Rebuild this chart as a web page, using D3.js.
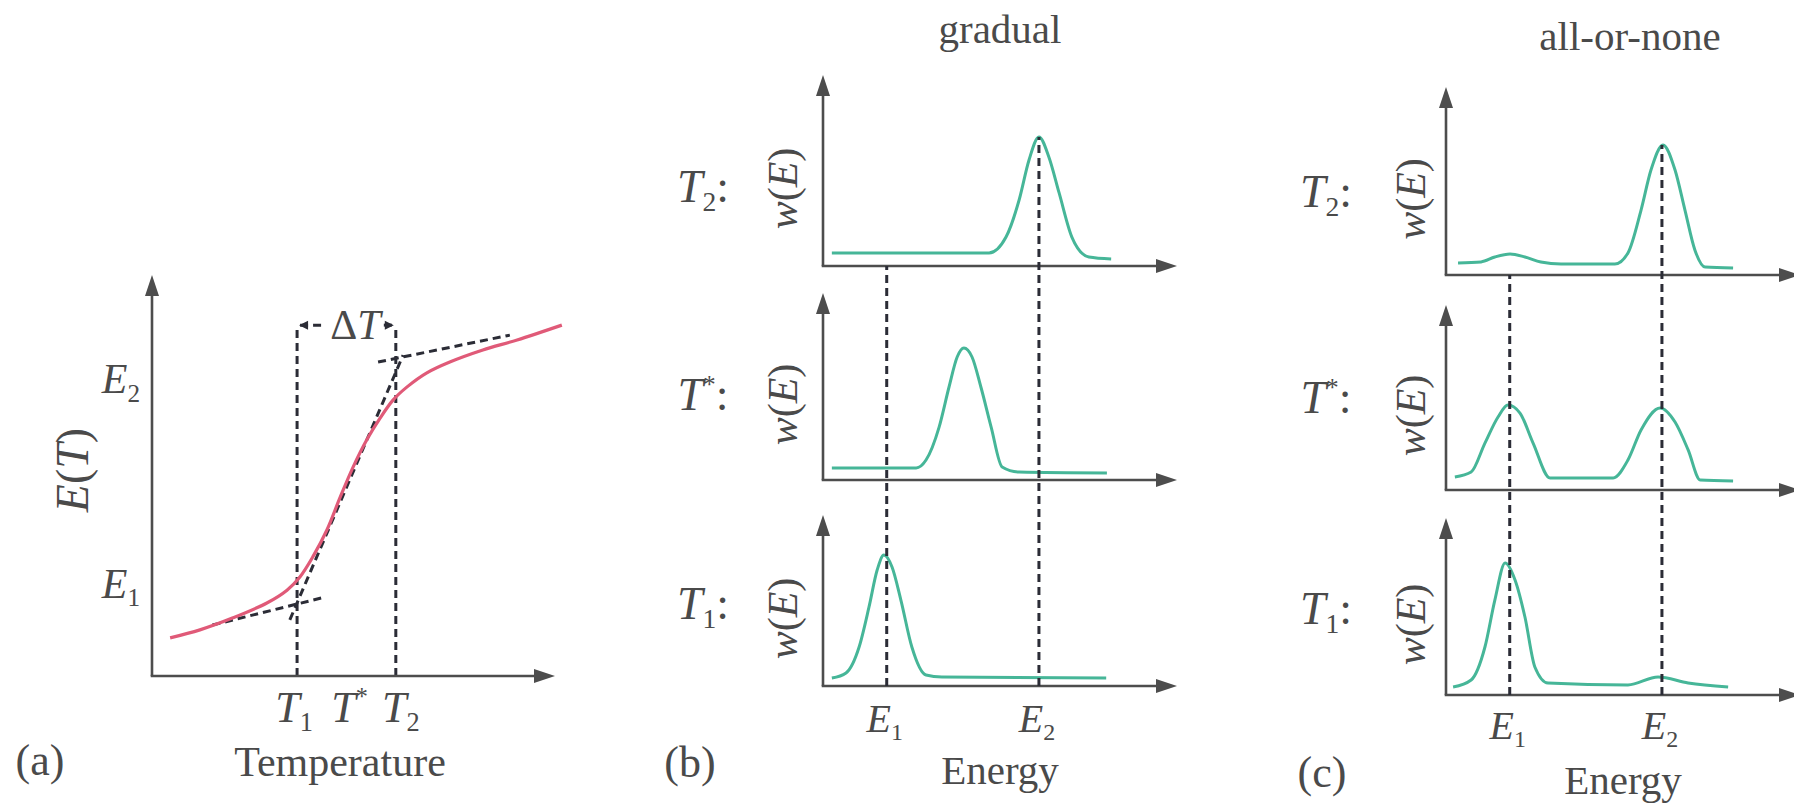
<!DOCTYPE html>
<html>
<head>
<meta charset="utf-8">
<script src="https://cdn.jsdelivr.net/npm/d3@7"></script>
<style>
  body { margin: 0; background: #fff; }
  svg { display: block; }
  text { font-family: "Liberation Serif", "DejaVu Serif", serif; fill: #4a4a4a; }
</style>
</head>
<body>
<svg id="fig" width="1794" height="804"></svg>
<script>
// ---------------- data ----------------

// (a) mean energy E(T) against temperature, both in arbitrary units 0..100
const tempT   = [4.5, 11.9, 20.1, 28.5, 33.5, 36.7, 39.9, 43.4, 46.7, 49.9, 53.3, 56.6, 59.8, 63.3, 68.2, 73.9, 82.1, 90.6, 101.7];
const energyE = [9.5, 11.5, 14.5, 18.2, 21.4, 24.7, 29.7, 36.4, 44.6, 52.1, 58.9, 64.3, 68.8, 72.1, 75.6, 78.3, 81.3, 83.8, 87.5];

// dashed tangents of (a): [T, E] end points
const tangentLow   = [[15, 12.7], [42.2, 19.5]];
const tangentSteep = [[34.2, 14.0], [62.3, 80.0]];
const tangentHigh  = [[56.1, 78.3], [88.8, 85.0]];

// marked temperatures and energy labels of (a)
const tempMarks   = [{ name: "T", sub: "1", value: 36 }, { name: "T", sup: "*", value: 49 }, { name: "T", sub: "2", value: 60.5 }];
const energyTicks = [{ name: "E", sub: "1", value: 23 }, { name: "E", sub: "2", value: 74 }];
const deltaTLevel = 87.5;

// (b) gradual: energy grid (0..10) and w(E) (0..100) at T2, T*, T1
const gradT2E = [0.25, 2.5, 4.69, 5.17, 5.54, 5.82, 6.10, 6.38, 6.67, 7.03, 7.51, 8.14];
const gradT2W = [8.7, 8.7, 8.7, 19.3, 44, 70.7, 86, 72.7, 48.7, 19.3, 6, 4.7];
const gradTsE = [0.25, 2.63, 2.91, 3.28, 3.56, 3.79, 3.98, 4.21, 4.46, 4.75, 5.06, 5.54, 8.02];
const gradTsW = [8, 8, 13.3, 35.3, 62, 82, 88, 82, 62, 35.3, 8.7, 5.3, 4.7];
const gradT1E = [0.25, 0.65, 1.02, 1.30, 1.53, 1.72, 1.95, 2.20, 2.51, 2.91, 3.36, 8.00];
const gradT1W = [5.3, 8.7, 26, 52.7, 77.3, 87.3, 79.3, 57.3, 26, 7.3, 6, 5.3];

// (c) all-or-none
const aonT2E = [0.34, 0.99, 1.38, 1.81, 2.23, 2.68, 3.25, 4.77, 5.14, 5.51, 5.79, 6.13, 6.47, 6.75, 7.03, 7.32, 8.11];
const aonT2W = [8, 8.7, 12, 14, 12, 8.7, 7.3, 7.3, 14.7, 43.3, 70, 86.7, 70, 43.3, 16.7, 5.3, 4.7];
const aonTsE = [0.25, 0.71, 1.10, 1.47, 1.75, 2.09, 2.46, 2.94, 4.72, 5.14, 5.51, 6.05, 6.47, 6.84, 7.18, 8.11];
const aonTsW = [8.7, 12, 31.3, 48.7, 56.7, 51.3, 31.3, 8, 8, 20, 40, 54.7, 45.3, 26.7, 6.7, 6];
const aonT1E = [0.20, 0.71, 1.10, 1.38, 1.67, 1.95, 2.23, 2.51, 2.88, 5.14, 5.99, 6.84, 7.97];
const aonT1W = [5.3, 10, 32, 63.3, 88, 76.7, 52, 18.7, 8, 6.7, 12, 8, 5.3];

// E1 / E2 positions on the energy axis
const energyMarks = [{ name: "E", sub: "1", value: 1.8 }, { name: "E", sub: "2", value: 6.1 }];

// ---------------- drawing ----------------
const AXIS = "#4d4d4d", DASH = "#2b2c36", RED = "#e05a78", TEAL = "#46b698";

const svg = d3.select("#fig");

function arrowAxes(g, x0, y0, yTop, xTip) {
    g.append("line").attr("x1", x0).attr("y1", y0).attr("x2", x0).attr("y2", yTop + 16)
        .attr("stroke", AXIS).attr("stroke-width", 2.6);
    g.append("line").attr("x1", x0 - 1.3).attr("y1", y0).attr("x2", xTip - 16).attr("y2", y0)
        .attr("stroke", AXIS).attr("stroke-width", 2.6);
    g.append("path").attr("d", `M${x0},${yTop} L${x0 - 7},${yTop + 21} L${x0 + 7},${yTop + 21} Z`).attr("fill", AXIS);
    g.append("path").attr("d", `M${xTip},${y0} L${xTip - 21},${y0 - 7} L${xTip - 21},${y0 + 7} Z`).attr("fill", AXIS);
}

function dashed(g, x1, y1, x2, y2) {
    g.append("line").attr("x1", x1).attr("y1", y1).attr("x2", x2).attr("y2", y2)
        .attr("stroke", DASH).attr("stroke-width", 3).attr("stroke-dasharray", "8,5");
}

// italic symbol with optional subscript / superscript and trailing text
function mathText(g, x, y, m, size, anchor, tail) {
    let t = g.append("text").attr("x", x).attr("y", y).attr("font-size", size)
        .attr("text-anchor", anchor || "middle");
    t.append("tspan").attr("font-style", "italic").text(m.name);
    if (m.sub) {
        t.append("tspan").attr("font-size", size * 0.6).attr("dy", size * 0.2).text(m.sub);
        if (tail) t.append("tspan").attr("dy", -size * 0.2).text(tail);
    } else if (m.sup) {
        t.append("tspan").attr("font-size", size * 0.55).attr("dy", -size * 0.38).text(m.sup);
        if (tail) t.append("tspan").attr("dy", size * 0.38).text(tail);
    } else if (tail) {
        t.append("tspan").text(tail);
    }
    return t;
}

function rotatedLabel(g, x, y, size, parts) {
    let t = g.append("text").attr("transform", `translate(${x},${y}) rotate(-90)`)
        .attr("text-anchor", "middle").attr("dy", "0.35em").attr("font-size", size);
    parts.forEach(p => t.append("tspan").attr("font-style", p[1] ? "italic" : "normal").text(p[0]));
}

// ---- panel (a) ----
const ga = svg.append("g");
const xa = d3.scaleLinear().domain([0, 100]).range([152, 555]);
const ya = d3.scaleLinear().domain([0, 100]).range([676, 275]);

[tempMarks[0], tempMarks[2]].forEach(m => dashed(ga, xa(m.value), ya(0), xa(m.value), ya(deltaTLevel)));
[tangentLow, tangentSteep, tangentHigh].forEach(l =>
    dashed(ga, xa(l[0][0]), ya(l[0][1]), xa(l[1][0]), ya(l[1][1])));

const lineA = d3.line().x(d => xa(d[0])).y(d => ya(d[1])).curve(d3.curveCatmullRom.alpha(0.5));
ga.append("path").datum(d3.zip(tempT, energyE)).attr("d", lineA)
    .attr("fill", "none").attr("stroke", RED).attr("stroke-width", 3.2);

arrowAxes(ga, xa(0), ya(0), ya(100), xa(100));

// delta T bracket
const t1x = xa(tempMarks[0].value), t2x = xa(tempMarks[2].value), by = ya(deltaTLevel);
dashed(ga, t1x + 3, by, t1x + 28, by);
dashed(ga, t2x - 12, by, t2x - 3, by);
ga.append("path").attr("d", `M${t1x + 2},${by} l9,-4.5 l0,9 Z`).attr("fill", DASH);
ga.append("path").attr("d", `M${t2x - 2},${by} l-9,-4.5 l0,9 Z`).attr("fill", DASH);
let dt = ga.append("text").attr("x", (t1x + t2x) / 2 + 9).attr("y", by + 14).attr("font-size", 42)
    .attr("text-anchor", "middle");
dt.append("tspan").text("Δ");
dt.append("tspan").attr("font-style", "italic").text("T");

tempMarks.forEach((m, i) => mathText(ga, xa(m.value) + [-3, 0, 5][i], 722, m, 44));
energyTicks.forEach(m => mathText(ga, 140, ya(m.value) + 14, m, 42, "end"));
rotatedLabel(ga, 72, 470, 46, [["E", 1], ["(", 0], ["T", 1], [")", 0]]);
ga.append("text").attr("x", 40).attr("y", 775).attr("font-size", 44).attr("text-anchor", "middle").text("(a)");
ga.append("text").attr("x", 340).attr("y", 776).attr("font-size", 42).attr("text-anchor", "middle").text("Temperature");

// ---- panels (b) and (c) ----
const panels = [
    {
        title: "gradual", titleX: 1000, titleY: 43, tag: "(b)", tagX: 690, tagY: 777,
        x0: 823, labelX: 703, wX: 782, energyY: 784, eLabelY: 732,
        rows: [
            { axisY: 266, topY: 75, E: gradT2E, W: gradT2W, t: { name: "T", sub: "2" }, ly: 202 },
            { axisY: 480, topY: 293, E: gradTsE, W: gradTsW, t: { name: "T", sup: "*" }, ly: 410 },
            { axisY: 686, topY: 515, E: gradT1E, W: gradT1W, t: { name: "T", sub: "1" }, ly: 619 }
        ]
    },
    {
        title: "all-or-none", titleX: 1630, titleY: 50, tag: "(c)", tagX: 1322, tagY: 787,
        x0: 1446, labelX: 1326, wX: 1410, energyY: 794, eLabelY: 739,
        rows: [
            { axisY: 275, topY: 87, E: aonT2E, W: aonT2W, t: { name: "T", sub: "2" }, ly: 207 },
            { axisY: 490, topY: 305, E: aonTsE, W: aonTsW, t: { name: "T", sup: "*" }, ly: 413 },
            { axisY: 695, topY: 518, E: aonT1E, W: aonT1W, t: { name: "T", sub: "1" }, ly: 624 }
        ]
    }
];

panels.forEach(p => {
    const g = svg.append("g");
    const xe = d3.scaleLinear().domain([0, 10]).range([p.x0, p.x0 + 354]);
    const top = p.rows[0], bottom = p.rows[2];
    const wTop = d3.scaleLinear().domain([0, 100]).range([top.axisY, top.axisY - 150]);

    p.rows.forEach(r => {
        const yw = d3.scaleLinear().domain([0, 100]).range([r.axisY, r.axisY - 150]);
        const line = d3.line().x(d => xe(d[0])).y(d => yw(d[1])).curve(d3.curveMonotoneX);
        g.append("path").datum(d3.zip(r.E, r.W)).attr("d", line)
            .attr("fill", "none").attr("stroke", TEAL).attr("stroke-width", 3);
        arrowAxes(g, p.x0, r.axisY, r.topY, xe(10));
        mathText(g, p.labelX, r.ly, r.t, 46, "middle", ":");
        rotatedLabel(g, p.wX, (r.axisY + r.topY) / 2 + 18, 42, [["w", 1], ["(", 0], ["E", 1], [")", 0]]);
    });

    // E1 runs from the top axis, E2 from the top peak, both down to the bottom axis
    dashed(g, xe(energyMarks[0].value), bottom.axisY, xe(energyMarks[0].value), top.axisY);
    dashed(g, xe(energyMarks[1].value), bottom.axisY, xe(energyMarks[1].value), wTop(d3.max(top.W)));

    energyMarks.forEach(m => mathText(g, xe(m.value) - 2, p.eLabelY, m, 40));
    g.append("text").attr("x", p.titleX).attr("y", p.titleY).attr("font-size", 41)
        .attr("text-anchor", "middle").text(p.title);
    g.append("text").attr("x", p.tagX).attr("y", p.tagY).attr("font-size", 44)
        .attr("text-anchor", "middle").text(p.tag);
    g.append("text").attr("x", (xe(0) + xe(10)) / 2).attr("y", p.energyY).attr("font-size", 41)
        .attr("text-anchor", "middle").text("Energy");
});
</script>
</body>
</html>
